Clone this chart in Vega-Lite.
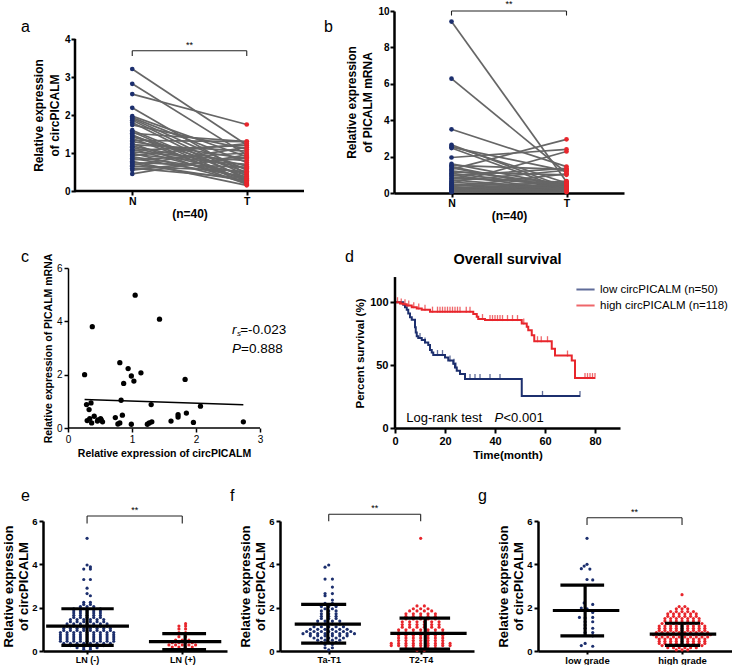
{
"$schema":"https://vega.github.io/schema/vega-lite/v6.json",
"padding":{"left":2,"top":0,"right":0,"bottom":0},
"datasets":{
"pa":[{"i":1,"x":1,"v":3.21},{"i":1,"x":2,"v":1.21},{"i":2,"x":1,"v":2.82},{"i":2,"x":2,"v":0.95},{"i":3,"x":1,"v":2.55},{"i":3,"x":2,"v":1.75},{"i":4,"x":1,"v":2.19},{"i":4,"x":2,"v":0.45},{"i":5,"x":1,"v":1.97},{"i":5,"x":2,"v":0.9},{"i":6,"x":1,"v":1.93},{"i":6,"x":2,"v":0.75},{"i":7,"x":1,"v":1.9},{"i":7,"x":2,"v":0.55},{"i":8,"x":1,"v":1.86},{"i":8,"x":2,"v":0.4},{"i":9,"x":1,"v":1.8},{"i":9,"x":2,"v":0.3},{"i":10,"x":1,"v":1.74},{"i":10,"x":2,"v":1.1},{"i":11,"x":1,"v":1.6},{"i":11,"x":2,"v":0.35},{"i":12,"x":1,"v":1.56},{"i":12,"x":2,"v":0.25},{"i":13,"x":1,"v":1.52},{"i":13,"x":2,"v":1.3},{"i":14,"x":1,"v":1.48},{"i":14,"x":2,"v":0.2},{"i":15,"x":1,"v":1.45},{"i":15,"x":2,"v":0.5},{"i":16,"x":1,"v":1.42},{"i":16,"x":2,"v":0.65},{"i":17,"x":1,"v":1.38},{"i":17,"x":2,"v":0.28},{"i":18,"x":1,"v":1.33},{"i":18,"x":2,"v":1.3},{"i":19,"x":1,"v":1.3},{"i":19,"x":2,"v":0.85},{"i":20,"x":1,"v":1.25},{"i":20,"x":2,"v":0.18},{"i":21,"x":1,"v":1.22},{"i":21,"x":2,"v":1.05},{"i":22,"x":1,"v":1.18},{"i":22,"x":2,"v":0.6},{"i":23,"x":1,"v":1.15},{"i":23,"x":2,"v":0.42},{"i":24,"x":1,"v":1.1},{"i":24,"x":2,"v":0.32},{"i":25,"x":1,"v":1.07},{"i":25,"x":2,"v":1.2},{"i":26,"x":1,"v":1.03},{"i":26,"x":2,"v":0.8},{"i":27,"x":1,"v":1.0},{"i":27,"x":2,"v":0.22},{"i":28,"x":1,"v":0.96},{"i":28,"x":2,"v":0.7},{"i":29,"x":1,"v":0.93},{"i":29,"x":2,"v":1.25},{"i":30,"x":1,"v":0.9},{"i":30,"x":2,"v":0.48},{"i":31,"x":1,"v":0.86},{"i":31,"x":2,"v":0.38},{"i":32,"x":1,"v":0.82},{"i":32,"x":2,"v":1.0},{"i":33,"x":1,"v":0.78},{"i":33,"x":2,"v":0.15},{"i":34,"x":1,"v":0.75},{"i":34,"x":2,"v":0.62},{"i":35,"x":1,"v":0.72},{"i":35,"x":2,"v":0.27},{"i":36,"x":1,"v":0.68},{"i":36,"x":2,"v":1.15},{"i":37,"x":1,"v":0.65},{"i":37,"x":2,"v":0.52},{"i":38,"x":1,"v":0.6},{"i":38,"x":2,"v":0.33},{"i":39,"x":1,"v":0.55},{"i":39,"x":2,"v":0.88},{"i":40,"x":1,"v":0.45},{"i":40,"x":2,"v":0.95}],
"pb":[{"i":1,"x":1,"v":9.42},{"i":1,"x":2,"v":0.62},{"i":2,"x":1,"v":6.28},{"i":2,"x":2,"v":1.1},{"i":3,"x":1,"v":3.5},{"i":3,"x":2,"v":1.45},{"i":4,"x":1,"v":2.65},{"i":4,"x":2,"v":0.3},{"i":5,"x":1,"v":2.58},{"i":5,"x":2,"v":0.55},{"i":6,"x":1,"v":2.52},{"i":6,"x":2,"v":1.2},{"i":7,"x":1,"v":2.47},{"i":7,"x":2,"v":0.2},{"i":8,"x":1,"v":1.95},{"i":8,"x":2,"v":2.4},{"i":9,"x":1,"v":1.6},{"i":9,"x":2,"v":0.4},{"i":10,"x":1,"v":1.52},{"i":10,"x":2,"v":1.3},{"i":11,"x":1,"v":1.45},{"i":11,"x":2,"v":0.15},{"i":12,"x":1,"v":1.38},{"i":12,"x":2,"v":0.25},{"i":13,"x":1,"v":1.3},{"i":13,"x":2,"v":2.95},{"i":14,"x":1,"v":1.22},{"i":14,"x":2,"v":0.5},{"i":15,"x":1,"v":1.15},{"i":15,"x":2,"v":1.0},{"i":16,"x":1,"v":1.08},{"i":16,"x":2,"v":0.35},{"i":17,"x":1,"v":1.0},{"i":17,"x":2,"v":0.12},{"i":18,"x":1,"v":0.95},{"i":18,"x":2,"v":1.35},{"i":19,"x":1,"v":0.88},{"i":19,"x":2,"v":0.45},{"i":20,"x":1,"v":0.8},{"i":20,"x":2,"v":0.6},{"i":21,"x":1,"v":0.72},{"i":21,"x":2,"v":0.22},{"i":22,"x":1,"v":0.65},{"i":22,"x":2,"v":1.25},{"i":23,"x":1,"v":0.58},{"i":23,"x":2,"v":0.3},{"i":24,"x":1,"v":0.52},{"i":24,"x":2,"v":2.28},{"i":25,"x":1,"v":0.48},{"i":25,"x":2,"v":0.18},{"i":26,"x":1,"v":0.44},{"i":26,"x":2,"v":0.1},{"i":27,"x":1,"v":0.4},{"i":27,"x":2,"v":0.55},{"i":28,"x":1,"v":0.35},{"i":28,"x":2,"v":1.05},{"i":29,"x":1,"v":0.32},{"i":29,"x":2,"v":0.28},{"i":30,"x":1,"v":0.28},{"i":30,"x":2,"v":0.15},{"i":31,"x":1,"v":0.25},{"i":31,"x":2,"v":0.4},{"i":32,"x":1,"v":0.22},{"i":32,"x":2,"v":0.08},{"i":33,"x":1,"v":0.2},{"i":33,"x":2,"v":0.65},{"i":34,"x":1,"v":0.18},{"i":34,"x":2,"v":0.2},{"i":35,"x":1,"v":0.15},{"i":35,"x":2,"v":0.35},{"i":36,"x":1,"v":0.12},{"i":36,"x":2,"v":0.05},{"i":37,"x":1,"v":0.1},{"i":37,"x":2,"v":0.5},{"i":38,"x":1,"v":0.08},{"i":38,"x":2,"v":0.12},{"i":39,"x":1,"v":0.06},{"i":39,"x":2,"v":0.25},{"i":40,"x":1,"v":0.05},{"i":40,"x":2,"v":0.08}],
"pc":[{"x":0.26,"y":2.0},{"x":0.29,"y":0.88},{"x":0.3,"y":0.28},{"x":0.33,"y":0.69},{"x":0.36,"y":0.94},{"x":0.38,"y":3.8},{"x":0.34,"y":0.35},{"x":0.37,"y":0.19},{"x":0.41,"y":0.44},{"x":0.46,"y":0.26},{"x":0.47,"y":0.3},{"x":0.51,"y":0.35},{"x":0.54,"y":0.23},{"x":0.52,"y":0.3},{"x":0.74,"y":0.39},{"x":0.78,"y":0.15},{"x":0.81,"y":2.45},{"x":0.83,"y":1.04},{"x":0.81,"y":0.19},{"x":0.85,"y":0.48},{"x":0.87,"y":1.67},{"x":0.94,"y":2.23},{"x":0.99,"y":1.95},{"x":0.99,"y":0.14},{"x":1.03,"y":1.76},{"x":1.05,"y":4.98},{"x":1.14,"y":2.07},{"x":1.24,"y":0.14},{"x":1.27,"y":0.19},{"x":1.3,"y":0.88},{"x":1.31,"y":0.23},{"x":1.43,"y":4.08},{"x":1.61,"y":0.26},{"x":1.72,"y":0.41},{"x":1.72,"y":0.5},{"x":1.83,"y":1.82},{"x":1.85,"y":0.56},{"x":1.96,"y":0.21},{"x":2.07,"y":0.82},{"x":2.74,"y":0.23}],
"km":[{"grp":"low","t":0,"s":100},{"grp":"low","t":3.3,"s":98},{"grp":"low","t":4,"s":96},{"grp":"low","t":4.7,"s":94},{"grp":"low","t":5.3,"s":91},{"grp":"low","t":6,"s":88},{"grp":"low","t":6.7,"s":86},{"grp":"low","t":8,"s":80},{"grp":"low","t":8.3,"s":76},{"grp":"low","t":8.7,"s":73},{"grp":"low","t":9.3,"s":71.5},{"grp":"low","t":10.7,"s":70},{"grp":"low","t":12,"s":68},{"grp":"low","t":13.3,"s":66},{"grp":"low","t":14,"s":62},{"grp":"low","t":14.7,"s":60},{"grp":"low","t":15.3,"s":58},{"grp":"low","t":20,"s":56},{"grp":"low","t":21.3,"s":53.6},{"grp":"low","t":23.3,"s":51},{"grp":"low","t":24,"s":48},{"grp":"low","t":24.7,"s":45.6},{"grp":"low","t":26,"s":43},{"grp":"low","t":28,"s":39},{"grp":"low","t":50.7,"s":25.5},{"grp":"low","t":74,"s":25.5},
{"grp":"high","t":0,"s":100},{"grp":"high","t":2,"s":99},{"grp":"high","t":3.3,"s":98.4},{"grp":"high","t":4.7,"s":97.3},{"grp":"high","t":6.7,"s":96},{"grp":"high","t":8.7,"s":95},{"grp":"high","t":10.7,"s":94},{"grp":"high","t":14,"s":92.5},{"grp":"high","t":31.3,"s":90.6},{"grp":"high","t":32.7,"s":88.5},{"grp":"high","t":33.3,"s":86.6},{"grp":"high","t":36,"s":85.8},{"grp":"high","t":50.7,"s":83},{"grp":"high","t":52.7,"s":80.4},{"grp":"high","t":53.3,"s":77.7},{"grp":"high","t":54.7,"s":73.7},{"grp":"high","t":55.7,"s":69},{"grp":"high","t":62.7,"s":63},{"grp":"high","t":64,"s":57.6},{"grp":"high","t":70.7,"s":53.6},{"grp":"high","t":72,"s":39.7},{"grp":"high","t":80,"s":39.7}],
"kmt":[{"grp":"low","t":10,"s":71.5},{"grp":"low","t":12,"s":68},{"grp":"low","t":17,"s":58},{"grp":"low","t":19,"s":58},{"grp":"low","t":22,"s":53.6},{"grp":"low","t":23.6,"s":51},{"grp":"low","t":24.4,"s":48},{"grp":"low","t":30,"s":39},{"grp":"low","t":32,"s":39},{"grp":"low","t":34,"s":39},{"grp":"low","t":38,"s":39},{"grp":"low","t":42,"s":39},{"grp":"low","t":59,"s":25.5},{"grp":"low","t":74,"s":25.5},
{"grp":"high","t":1,"s":100},{"grp":"high","t":2.5,"s":99},{"grp":"high","t":4,"s":98.4},{"grp":"high","t":5.5,"s":97.3},{"grp":"high","t":7.5,"s":96},{"grp":"high","t":9.5,"s":95},{"grp":"high","t":12,"s":94},{"grp":"high","t":15,"s":92.5},{"grp":"high","t":17,"s":92.5},{"grp":"high","t":18,"s":92.5},{"grp":"high","t":19,"s":92.5},{"grp":"high","t":20,"s":92.5},{"grp":"high","t":21,"s":92.5},{"grp":"high","t":22,"s":92.5},{"grp":"high","t":23,"s":92.5},{"grp":"high","t":24,"s":92.5},{"grp":"high","t":25,"s":92.5},{"grp":"high","t":26,"s":92.5},{"grp":"high","t":28.5,"s":92.5},{"grp":"high","t":30,"s":92.5},{"grp":"high","t":35,"s":86.6},{"grp":"high","t":38,"s":85.8},{"grp":"high","t":39,"s":85.8},{"grp":"high","t":40,"s":85.8},{"grp":"high","t":41,"s":85.8},{"grp":"high","t":42,"s":85.8},{"grp":"high","t":43,"s":85.8},{"grp":"high","t":45,"s":85.8},{"grp":"high","t":47,"s":85.8},{"grp":"high","t":49,"s":85.8},{"grp":"high","t":51.5,"s":83},{"grp":"high","t":57,"s":69},{"grp":"high","t":58.5,"s":69},{"grp":"high","t":61,"s":69},{"grp":"high","t":69,"s":57.6},{"grp":"high","t":76,"s":39.7},{"grp":"high","t":77,"s":39.7},{"grp":"high","t":78,"s":39.7},{"grp":"high","t":79,"s":39.7},{"grp":"high","t":80,"s":39.7}],
"e1":[{"x":1,"y":5.2},{"x":1,"y":3.97},{"x":1.035,"y":3.88},{"x":0.965,"y":3.78},{"x":1.035,"y":3.78},{"x":0.965,"y":3.3},{"x":1.035,"y":3.3},{"x":1,"y":2.9},{"x":1,"y":2.65},{"x":1.035,"y":2.55},{"x":0.965,"y":2.25},{"x":1.035,"y":2.25},{"x":0.965,"y":2.15},{"x":1.035,"y":2.15},{"x":0.93,"y":2.05},{"x":1,"y":2.05},{"x":1.07,"y":2.05},
{"x":0.86,"y":1.95},{"x":0.93,"y":1.95},{"x":1,"y":1.95},{"x":1.07,"y":1.95},{"x":1.14,"y":1.95},
{"x":0.86,"y":1.85},{"x":0.93,"y":1.85},{"x":1,"y":1.85},{"x":1.07,"y":1.85},{"x":1.14,"y":1.85},
{"x":0.86,"y":1.75},{"x":0.93,"y":1.75},{"x":1,"y":1.75},{"x":1.07,"y":1.75},{"x":1.14,"y":1.75},
{"x":0.86,"y":1.65},{"x":0.93,"y":1.65},{"x":1,"y":1.65},{"x":1.07,"y":1.65},{"x":1.14,"y":1.65},
{"x":0.86,"y":1.55},{"x":0.93,"y":1.55},{"x":1,"y":1.55},{"x":1.07,"y":1.55},{"x":1.14,"y":1.55},
{"x":0.825,"y":1.45},{"x":0.895,"y":1.45},{"x":0.965,"y":1.45},{"x":1.035,"y":1.45},{"x":1.105,"y":1.45},{"x":1.175,"y":1.45},
{"x":0.825,"y":1.35},{"x":0.895,"y":1.35},{"x":0.965,"y":1.35},{"x":1.035,"y":1.35},{"x":1.105,"y":1.35},{"x":1.175,"y":1.35},
{"x":0.79,"y":1.25},{"x":0.86,"y":1.25},{"x":0.93,"y":1.25},{"x":1,"y":1.25},{"x":1.07,"y":1.25},{"x":1.14,"y":1.25},{"x":1.21,"y":1.25},
{"x":0.79,"y":1.15},{"x":0.86,"y":1.15},{"x":0.93,"y":1.15},{"x":1,"y":1.15},{"x":1.07,"y":1.15},{"x":1.14,"y":1.15},{"x":1.21,"y":1.15},
{"x":0.755,"y":1.05},{"x":0.825,"y":1.05},{"x":0.895,"y":1.05},{"x":0.965,"y":1.05},{"x":1.035,"y":1.05},{"x":1.105,"y":1.05},{"x":1.175,"y":1.05},{"x":1.245,"y":1.05},
{"x":0.755,"y":0.95},{"x":0.825,"y":0.95},{"x":0.895,"y":0.95},{"x":0.965,"y":0.95},{"x":1.035,"y":0.95},{"x":1.105,"y":0.95},{"x":1.175,"y":0.95},{"x":1.245,"y":0.95},
{"x":0.72,"y":0.85},{"x":0.79,"y":0.85},{"x":0.86,"y":0.85},{"x":0.93,"y":0.85},{"x":1,"y":0.85},{"x":1.07,"y":0.85},{"x":1.14,"y":0.85},{"x":1.21,"y":0.85},{"x":1.28,"y":0.85},
{"x":0.72,"y":0.75},{"x":0.79,"y":0.75},{"x":0.86,"y":0.75},{"x":0.93,"y":0.75},{"x":1,"y":0.75},{"x":1.07,"y":0.75},{"x":1.14,"y":0.75},{"x":1.21,"y":0.75},{"x":1.28,"y":0.75},
{"x":0.72,"y":0.65},{"x":0.79,"y":0.65},{"x":0.86,"y":0.65},{"x":0.93,"y":0.65},{"x":1,"y":0.65},{"x":1.07,"y":0.65},{"x":1.14,"y":0.65},{"x":1.21,"y":0.65},{"x":1.28,"y":0.65},
{"x":0.72,"y":0.55},{"x":0.79,"y":0.55},{"x":0.86,"y":0.55},{"x":0.93,"y":0.55},{"x":1,"y":0.55},{"x":1.07,"y":0.55},{"x":1.14,"y":0.55},{"x":1.21,"y":0.55},{"x":1.28,"y":0.55},
{"x":0.72,"y":0.45},{"x":0.79,"y":0.45},{"x":0.86,"y":0.45},{"x":0.93,"y":0.45},{"x":1,"y":0.45},{"x":1.07,"y":0.45},{"x":1.14,"y":0.45},{"x":1.21,"y":0.45},{"x":1.28,"y":0.45},
{"x":0.755,"y":0.35},{"x":0.825,"y":0.35},{"x":0.895,"y":0.35},{"x":0.965,"y":0.35},{"x":1.035,"y":0.35},{"x":1.105,"y":0.35},{"x":1.175,"y":0.35},{"x":1.245,"y":0.35},
{"x":0.825,"y":0.25},{"x":0.895,"y":0.25},{"x":0.965,"y":0.25},{"x":1.035,"y":0.25},{"x":1.105,"y":0.25},{"x":1.175,"y":0.25},
{"x":0.895,"y":0.15},{"x":0.965,"y":0.15},{"x":1.035,"y":0.15},{"x":1.105,"y":0.15},
{"x":0.965,"y":0.07},{"x":1.035,"y":0.07}],
"e2":[{"x":2.035,"y":1.26},{"x":1.965,"y":1.15},{"x":2.035,"y":1.15},{"x":1.965,"y":1.02},{"x":2.035,"y":1.02},{"x":1.965,"y":0.85},{"x":2.035,"y":0.85},{"x":1.965,"y":0.66},{"x":2.035,"y":0.66},{"x":1.93,"y":0.5},{"x":2,"y":0.5},{"x":2.07,"y":0.5},{"x":1.895,"y":0.38},{"x":1.965,"y":0.38},{"x":2.035,"y":0.38},{"x":2.105,"y":0.38},{"x":1.86,"y":0.28},{"x":1.93,"y":0.28},{"x":2,"y":0.28},{"x":2.07,"y":0.28},{"x":2.14,"y":0.28},{"x":1.895,"y":0.18},{"x":1.965,"y":0.18},{"x":2.035,"y":0.18},{"x":2.105,"y":0.18},{"x":1.965,"y":0.08},{"x":2.035,"y":0.08}],
"f1":[{"x":1,"y":3.97},{"x":0.96,"y":3.87},{"x":0.96,"y":3.32},{"x":1.04,"y":3.32},{"x":1.04,"y":2.95},{"x":0.96,"y":2.65},{"x":1.04,"y":2.65},{"x":0.96,"y":2.55},{"x":1.04,"y":2.35},{"x":0.96,"y":2.2},{"x":1.04,"y":2.2},{"x":0.92,"y":2.05},{"x":1,"y":2.05},{"x":1.08,"y":2.05},{"x":0.96,"y":1.95},{"x":1.04,"y":1.95},
{"x":0.92,"y":1.85},{"x":1,"y":1.85},{"x":1.08,"y":1.85},{"x":0.92,"y":1.72},{"x":1,"y":1.72},{"x":1.08,"y":1.72},{"x":0.92,"y":1.6},{"x":1,"y":1.6},{"x":1.08,"y":1.6},{"x":0.92,"y":1.5},{"x":1,"y":1.5},{"x":1.08,"y":1.5},
{"x":0.88,"y":1.38},{"x":0.96,"y":1.38},{"x":1.04,"y":1.38},{"x":1.12,"y":1.38},{"x":0.88,"y":1.25},{"x":0.96,"y":1.25},{"x":1.04,"y":1.25},{"x":1.12,"y":1.25},
{"x":0.84,"y":1.12},{"x":0.92,"y":1.12},{"x":1,"y":1.12},{"x":1.08,"y":1.12},{"x":1.16,"y":1.12},
{"x":0.8,"y":1.0},{"x":0.88,"y":1.0},{"x":0.96,"y":1.0},{"x":1.04,"y":1.0},{"x":1.12,"y":1.0},{"x":1.2,"y":1.0},
{"x":0.76,"y":0.9},{"x":0.84,"y":0.9},{"x":0.92,"y":0.9},{"x":1,"y":0.9},{"x":1.08,"y":0.9},{"x":1.16,"y":0.9},{"x":1.24,"y":0.9},
{"x":0.72,"y":0.8},{"x":0.8,"y":0.8},{"x":0.88,"y":0.8},{"x":0.96,"y":0.8},{"x":1.04,"y":0.8},{"x":1.12,"y":0.8},{"x":1.2,"y":0.8},{"x":1.28,"y":0.8},
{"x":0.8,"y":0.7},{"x":0.88,"y":0.7},{"x":0.96,"y":0.7},{"x":1.04,"y":0.7},{"x":1.12,"y":0.7},{"x":1.2,"y":0.7},
{"x":0.84,"y":0.6},{"x":0.92,"y":0.6},{"x":1,"y":0.6},{"x":1.08,"y":0.6},{"x":1.16,"y":0.6},
{"x":0.88,"y":0.5},{"x":0.96,"y":0.5},{"x":1.04,"y":0.5},{"x":1.12,"y":0.5},
{"x":0.92,"y":0.4},{"x":1,"y":0.4},{"x":1.08,"y":0.4},{"x":0.96,"y":0.3},{"x":1.04,"y":0.3},{"x":0.96,"y":0.15},{"x":1.04,"y":0.15},{"x":1,"y":0.05}],
"f2":[{"x":2,"y":5.2},{"x":1.96,"y":2.08},{"x":2.04,"y":2.08},{"x":1.92,"y":1.95},{"x":2,"y":1.95},{"x":2.08,"y":1.95},{"x":1.88,"y":1.85},{"x":1.96,"y":1.85},{"x":2.04,"y":1.85},{"x":2.12,"y":1.85},
{"x":1.84,"y":1.72},{"x":1.92,"y":1.72},{"x":2,"y":1.72},{"x":2.08,"y":1.72},{"x":2.16,"y":1.72},
{"x":1.84,"y":1.6},{"x":1.92,"y":1.6},{"x":2,"y":1.6},{"x":2.08,"y":1.6},{"x":2.16,"y":1.6},
{"x":1.84,"y":1.48},{"x":1.92,"y":1.48},{"x":2,"y":1.48},{"x":2.08,"y":1.48},{"x":2.16,"y":1.48},
{"x":1.8,"y":1.35},{"x":1.88,"y":1.35},{"x":1.96,"y":1.35},{"x":2.04,"y":1.35},{"x":2.12,"y":1.35},{"x":2.2,"y":1.35},
{"x":1.8,"y":1.22},{"x":1.88,"y":1.22},{"x":1.96,"y":1.22},{"x":2.04,"y":1.22},{"x":2.12,"y":1.22},{"x":2.2,"y":1.22},
{"x":1.8,"y":1.1},{"x":1.88,"y":1.1},{"x":1.96,"y":1.1},{"x":2.04,"y":1.1},{"x":2.12,"y":1.1},{"x":2.2,"y":1.1},
{"x":1.76,"y":0.98},{"x":1.84,"y":0.98},{"x":1.92,"y":0.98},{"x":2,"y":0.98},{"x":2.08,"y":0.98},{"x":2.16,"y":0.98},{"x":2.24,"y":0.98},
{"x":1.76,"y":0.85},{"x":1.84,"y":0.85},{"x":1.92,"y":0.85},{"x":2,"y":0.85},{"x":2.08,"y":0.85},{"x":2.16,"y":0.85},{"x":2.24,"y":0.85},
{"x":1.76,"y":0.72},{"x":1.84,"y":0.72},{"x":1.92,"y":0.72},{"x":2,"y":0.72},{"x":2.08,"y":0.72},{"x":2.16,"y":0.72},{"x":2.24,"y":0.72},
{"x":1.76,"y":0.6},{"x":1.84,"y":0.6},{"x":1.92,"y":0.6},{"x":2,"y":0.6},{"x":2.08,"y":0.6},{"x":2.16,"y":0.6},{"x":2.24,"y":0.6},
{"x":1.76,"y":0.48},{"x":1.84,"y":0.48},{"x":1.92,"y":0.48},{"x":2,"y":0.48},{"x":2.08,"y":0.48},{"x":2.16,"y":0.48},{"x":2.24,"y":0.48},
{"x":1.68,"y":0.35},{"x":1.76,"y":0.35},{"x":1.84,"y":0.35},{"x":1.92,"y":0.35},{"x":2,"y":0.35},{"x":2.08,"y":0.35},{"x":2.16,"y":0.35},{"x":2.24,"y":0.35},{"x":2.32,"y":0.35},
{"x":1.68,"y":0.25},{"x":1.76,"y":0.25},{"x":1.84,"y":0.25},{"x":1.92,"y":0.25},{"x":2,"y":0.25},{"x":2.08,"y":0.25},{"x":2.16,"y":0.25},{"x":2.24,"y":0.25},{"x":2.32,"y":0.25},
{"x":1.84,"y":0.12},{"x":1.92,"y":0.12},{"x":2,"y":0.12},{"x":2.08,"y":0.12},{"x":2.16,"y":0.12},{"x":1.96,"y":0.04},{"x":2.04,"y":0.04}],
"g1":[{"x":1,"y":5.2},{"x":1,"y":4.0},{"x":0.97,"y":3.92},{"x":0.94,"y":3.8},{"x":1.03,"y":3.78},{"x":1,"y":3.3},{"x":1.06,"y":3.28},{"x":0.97,"y":2.22},{"x":1.06,"y":2.15},{"x":0.94,"y":1.98},{"x":1,"y":1.95},{"x":1.06,"y":1.78},{"x":0.92,"y":1.55},{"x":0.98,"y":1.52},{"x":1.06,"y":1.55},{"x":0.98,"y":1.35},{"x":1.06,"y":1.35},{"x":0.98,"y":1.2},{"x":0.98,"y":1.05},{"x":1.06,"y":1.05},{"x":0.98,"y":0.85},{"x":1.06,"y":0.85},{"x":0.98,"y":0.72},{"x":1.06,"y":0.7},{"x":0.98,"y":0.35},{"x":0.94,"y":0.25},{"x":1.06,"y":0.22}],
"g2":[{"x":2,"y":2.6},{"x":1.97,"y":2.05},{"x":2.03,"y":2.05},{"x":1.94,"y":1.95},{"x":2,"y":1.95},{"x":2.06,"y":1.95},
{"x":1.88,"y":1.82},{"x":1.94,"y":1.82},{"x":2,"y":1.82},{"x":2.06,"y":1.82},{"x":2.12,"y":1.82},
{"x":1.85,"y":1.72},{"x":1.91,"y":1.72},{"x":1.97,"y":1.72},{"x":2.03,"y":1.72},{"x":2.09,"y":1.72},{"x":2.15,"y":1.72},
{"x":1.85,"y":1.6},{"x":1.91,"y":1.6},{"x":1.97,"y":1.6},{"x":2.03,"y":1.6},{"x":2.09,"y":1.6},{"x":2.15,"y":1.6},
{"x":1.82,"y":1.5},{"x":1.88,"y":1.5},{"x":1.94,"y":1.5},{"x":2,"y":1.5},{"x":2.06,"y":1.5},{"x":2.12,"y":1.5},{"x":2.18,"y":1.5},
{"x":1.82,"y":1.38},{"x":1.88,"y":1.38},{"x":1.94,"y":1.38},{"x":2,"y":1.38},{"x":2.06,"y":1.38},{"x":2.12,"y":1.38},{"x":2.18,"y":1.38},
{"x":1.79,"y":1.27},{"x":1.85,"y":1.27},{"x":1.91,"y":1.27},{"x":1.97,"y":1.27},{"x":2.03,"y":1.27},{"x":2.09,"y":1.27},{"x":2.15,"y":1.27},{"x":2.21,"y":1.27},
{"x":1.76,"y":1.15},{"x":1.82,"y":1.15},{"x":1.88,"y":1.15},{"x":1.94,"y":1.15},{"x":2,"y":1.15},{"x":2.06,"y":1.15},{"x":2.12,"y":1.15},{"x":2.18,"y":1.15},{"x":2.24,"y":1.15},
{"x":1.76,"y":1.05},{"x":1.82,"y":1.05},{"x":1.88,"y":1.05},{"x":1.94,"y":1.05},{"x":2,"y":1.05},{"x":2.06,"y":1.05},{"x":2.12,"y":1.05},{"x":2.18,"y":1.05},{"x":2.24,"y":1.05},
{"x":1.76,"y":0.95},{"x":1.82,"y":0.95},{"x":1.88,"y":0.95},{"x":1.94,"y":0.95},{"x":2,"y":0.95},{"x":2.06,"y":0.95},{"x":2.12,"y":0.95},{"x":2.18,"y":0.95},{"x":2.24,"y":0.95},
{"x":1.73,"y":0.85},{"x":1.79,"y":0.85},{"x":1.85,"y":0.85},{"x":1.91,"y":0.85},{"x":1.97,"y":0.85},{"x":2.03,"y":0.85},{"x":2.09,"y":0.85},{"x":2.15,"y":0.85},{"x":2.21,"y":0.85},{"x":2.27,"y":0.85},
{"x":1.7,"y":0.75},{"x":1.76,"y":0.75},{"x":1.82,"y":0.75},{"x":1.88,"y":0.75},{"x":1.94,"y":0.75},{"x":2,"y":0.75},{"x":2.06,"y":0.75},{"x":2.12,"y":0.75},{"x":2.18,"y":0.75},{"x":2.24,"y":0.75},{"x":2.3,"y":0.75},
{"x":1.73,"y":0.65},{"x":1.79,"y":0.65},{"x":1.85,"y":0.65},{"x":1.91,"y":0.65},{"x":1.97,"y":0.65},{"x":2.03,"y":0.65},{"x":2.09,"y":0.65},{"x":2.15,"y":0.65},{"x":2.21,"y":0.65},{"x":2.27,"y":0.65},
{"x":1.76,"y":0.55},{"x":1.82,"y":0.55},{"x":1.88,"y":0.55},{"x":1.94,"y":0.55},{"x":2,"y":0.55},{"x":2.06,"y":0.55},{"x":2.12,"y":0.55},{"x":2.18,"y":0.55},{"x":2.24,"y":0.55},
{"x":1.76,"y":0.45},{"x":1.82,"y":0.45},{"x":1.88,"y":0.45},{"x":1.94,"y":0.45},{"x":2,"y":0.45},{"x":2.06,"y":0.45},{"x":2.12,"y":0.45},{"x":2.18,"y":0.45},{"x":2.24,"y":0.45},
{"x":1.76,"y":0.35},{"x":1.82,"y":0.35},{"x":1.88,"y":0.35},{"x":1.94,"y":0.35},{"x":2,"y":0.35},{"x":2.06,"y":0.35},{"x":2.12,"y":0.35},{"x":2.18,"y":0.35},{"x":2.24,"y":0.35},
{"x":1.79,"y":0.25},{"x":1.85,"y":0.25},{"x":1.91,"y":0.25},{"x":1.97,"y":0.25},{"x":2.03,"y":0.25},{"x":2.09,"y":0.25},{"x":2.15,"y":0.25},{"x":2.21,"y":0.25},
{"x":1.85,"y":0.15},{"x":1.91,"y":0.15},{"x":1.97,"y":0.15},{"x":2.03,"y":0.15},{"x":2.09,"y":0.15},{"x":2.15,"y":0.15},
{"x":1.94,"y":0.05},{"x":2,"y":0.05},{"x":2.06,"y":0.05}],
"eb":[{"x":0.57,"x2":1.44,"y":1.15,"y2":1.15},{"x":0.73,"x2":1.28,"y":1.95,"y2":1.95},{"x":0.73,"x2":1.28,"y":0.26,"y2":0.26},{"x":1,"x2":1,"y":0.26,"y2":1.95},{"x":1.65,"x2":2.41,"y":0.43,"y2":0.43},{"x":1.79,"x2":2.25,"y":0.8,"y2":0.8},{"x":1.79,"x2":2.25,"y":0.07,"y2":0.07},{"x":2.03,"x2":2.03,"y":0.07,"y2":0.8}],
"fb":[{"x":0.63,"x2":1.35,"y":1.24,"y2":1.24},{"x":0.7,"x2":1.19,"y":2.15,"y2":2.15},{"x":0.7,"x2":1.19,"y":0.36,"y2":0.36},{"x":0.99,"x2":0.99,"y":0.36,"y2":2.15},{"x":1.67,"x2":2.5,"y":0.81,"y2":0.81},{"x":1.77,"x2":2.32,"y":1.52,"y2":1.52},{"x":1.77,"x2":2.32,"y":0.09,"y2":0.09},{"x":2.05,"x2":2.05,"y":0.09,"y2":1.52}],
"gb":[{"x":0.64,"x2":1.34,"y":1.87,"y2":1.87},{"x":0.72,"x2":1.18,"y":3.04,"y2":3.04},{"x":0.72,"x2":1.18,"y":0.7,"y2":0.7},{"x":0.98,"x2":0.98,"y":0.7,"y2":3.04},{"x":1.66,"x2":2.36,"y":0.78,"y2":0.78},{"x":1.82,"x2":2.19,"y":1.28,"y2":1.28},{"x":1.82,"x2":2.19,"y":0.26,"y2":0.26},{"x":2.0,"x2":2.0,"y":0.26,"y2":1.28}]
},
"columns":1,
"align":"none",
"resolve":{"scale":{"color":"independent"},"legend":{"color":"independent"}},
"concat":[
{"columns":2,"align":{"row":"all","column":"none"},"spacing":17,"concat":[
{"width":261,"height":180,"layer":[
 {"data":{"name":"pa"},"mark":{"type":"line","color":"#666666","strokeWidth":1.7},"encoding":{
  "x":{"field":"x","type":"quantitative","scale":{"domain":[0.2205,2.5],"nice":false,"zero":false},"axis":{"values":[1,2],"labelExpr":"datum.value == 1 ? 'N' : 'T'","domain":false,"title":"(n=40)","titleX":146.5,"titleFontSize":12,"titleFontWeight":"bold","labelFontSize":10.5,"labelFontWeight":"bold","tickWidth":2,"tickSize":4,"labelPadding":1,"titlePadding":2,"labelFlush":false}},
  "y":{"field":"v","type":"quantitative","scale":{"domain":[0,4.737],"nice":false},"axis":{"values":[0,1,2,3,4],"offset":-32,"domain":false,"labelOverlap":false,"title":["Relative expression","of circPICALM"],"titleFontSize":12,"titleFontWeight":"bold","titleLineHeight":16,"titleY":104,"titlePadding":3,"labelFontSize":10,"labelFontWeight":"bold","tickWidth":2,"tickSize":4,"labelPadding":1}},
  "detail":{"field":"i","type":"nominal"}}},
 {"data":{"name":"pa"},"mark":{"type":"circle","size":22,"opacity":1},"encoding":{"x":{"field":"x","type":"quantitative"},"y":{"field":"v","type":"quantitative"},"color":{"condition":{"test":"datum.x == 1","value":"#1c2f6e"},"value":"#e8262c"}}},
 {"data":{"values":[{}]},"mark":{"type":"rule","strokeWidth":2.5,"color":"black"},"encoding":{"x":{"datum":0.5},"y":{"datum":0},"y2":{"datum":4}}},
 {"data":{"values":[{}]},"mark":{"type":"rule","strokeWidth":2.5,"color":"black"},"encoding":{"x":{"datum":0.5},"x2":{"datum":2.5},"y":{"datum":0}}},
 {"data":{"values":[{}]},"mark":{"type":"rule","strokeWidth":1.1,"color":"#222"},"encoding":{"x":{"datum":1},"x2":{"datum":2},"y":{"datum":3.69}}},
 {"data":{"values":[{}]},"mark":{"type":"rule","strokeWidth":1.1,"color":"#222"},"encoding":{"x":{"datum":1},"y":{"datum":3.69},"y2":{"datum":3.55}}},
 {"data":{"values":[{}]},"mark":{"type":"rule","strokeWidth":1.1,"color":"#222"},"encoding":{"x":{"datum":2},"y":{"datum":3.69},"y2":{"datum":3.55}}},
 {"data":{"values":[{}]},"mark":{"type":"text","fontSize":9,"baseline":"middle","font":"Liberation Sans"},"encoding":{"x":{"datum":1.5},"y":{"datum":3.84},"text":{"value":"**"}}},
 {"data":{"values":[{}]},"mark":{"type":"text","fontSize":16,"align":"left","baseline":"alphabetic","font":"Liberation Sans"},"encoding":{"x":{"datum":0.028},"y":{"datum":4.18},"text":{"value":"a"}}}
]},
{"width":230,"height":182,"layer":[
 {"data":{"name":"pb"},"mark":{"type":"line","color":"#666666","strokeWidth":1.7},"encoding":{
  "x":{"field":"x","type":"quantitative","scale":{"domain":[0.5,2.5],"nice":false,"zero":false},"axis":{"values":[1,2],"labelExpr":"datum.value == 1 ? 'N' : 'T'","title":"(n=40)","titleFontSize":12,"titleFontWeight":"bold","labelFontSize":10.5,"labelFontWeight":"bold","domainWidth":2.5,"tickWidth":2,"tickSize":4,"labelPadding":1,"titlePadding":2,"labelFlush":false}},
  "y":{"field":"v","type":"quantitative","scale":{"domain":[0,10],"nice":false},"axis":{"values":[0,2,4,6,8,10],"tickCount":6,"labelOverlap":false,"labelBound":false,"title":["Relative expression","of PICALM mRNA"],"titleFontSize":12,"titleFontWeight":"bold","titleLineHeight":16,"titlePadding":3,"labelFontSize":10,"labelFontWeight":"bold","domainWidth":2.5,"tickWidth":2,"tickSize":4,"labelPadding":1}},
  "detail":{"field":"i","type":"nominal"}}},
 {"data":{"name":"pb"},"mark":{"type":"circle","size":22,"opacity":1},"encoding":{"x":{"field":"x","type":"quantitative"},"y":{"field":"v","type":"quantitative","axis":{"labelOverlap":false,"values":[0,2,4,6,8,10]}},"color":{"condition":{"test":"datum.x == 1","value":"#1c2f6e"},"value":"#e8262c"}}},
 {"data":{"values":[{}]},"mark":{"type":"rule","strokeWidth":1.1,"color":"#222"},"encoding":{"x":{"datum":1},"x2":{"datum":2},"y":{"datum":10}}},
 {"data":{"values":[{}]},"mark":{"type":"rule","strokeWidth":1.1,"color":"#222"},"encoding":{"x":{"datum":1},"y":{"datum":10},"y2":{"datum":9.75}}},
 {"data":{"values":[{}]},"mark":{"type":"rule","strokeWidth":1.1,"color":"#222"},"encoding":{"x":{"datum":2},"y":{"datum":10},"y2":{"datum":9.75}}},
 {"data":{"values":[{}]},"mark":{"type":"text","fontSize":9,"baseline":"middle","font":"Liberation Sans"},"encoding":{"x":{"datum":1.5},"y":{"datum":10.37},"text":{"value":"**"}}},
 {"data":{"values":[{}]},"mark":{"type":"text","fontSize":16,"align":"left","baseline":"alphabetic","font":"Liberation Sans"},"encoding":{"x":{"datum":-0.109},"y":{"datum":8.85},"text":{"value":"b"}}}
]}
]},
{"columns":2,"align":{"row":"all","column":"none"},"spacing":58,"resolve":{"scale":{"color":"independent"},"legend":{"color":"independent"}},"concat":[
{"width":217,"height":160,"layer":[
 {"data":{"name":"pc"},"mark":{"type":"circle","size":28,"color":"black","opacity":1},"encoding":{
  "x":{"field":"x","type":"quantitative","scale":{"domain":[-0.39,3],"nice":false,"zero":false},"axis":{"values":[0,1,2,3],"format":"d","domain":false,"title":"Relative expression of circPICALM","titleX":121,"titleFontSize":10.5,"titleFontWeight":"bold","labelFontSize":10,"tickWidth":1.5,"tickSize":4,"labelPadding":2,"titlePadding":4,"labelFlush":false}},
  "y":{"field":"y","type":"quantitative","scale":{"domain":[0,6],"nice":false},"axis":{"values":[0,2,4,6],"format":"d","offset":-25,"title":"Relative expression of PICALM mRNA","titleFontSize":10.5,"titleFontWeight":"bold","titlePadding":3,"labelFontSize":10,"domainWidth":1.5,"tickWidth":1.5,"tickSize":4,"labelPadding":2}}}},
 {"data":{"values":[{}]},"mark":{"type":"rule","strokeWidth":1.5,"color":"black"},"encoding":{"x":{"datum":0},"x2":{"datum":3},"y":{"datum":0}}},
 {"data":{"values":[{}]},"mark":{"type":"rule","strokeWidth":1.5,"color":"black"},"encoding":{"x":{"datum":0.26},"x2":{"datum":2.74},"y":{"datum":1.07},"y2":{"datum":0.87}}},
 {"data":{"values":[{}]},"mark":{"type":"text","fontSize":13.5,"fontStyle":"italic","align":"left","font":"Liberation Sans"},"encoding":{"x":{"datum":2.5625},"y":{"datum":3.67},"text":{"value":"r"}}},
 {"data":{"values":[{}]},"mark":{"type":"text","fontSize":8,"fontStyle":"italic","align":"left","font":"Liberation Sans"},"encoding":{"x":{"datum":2.64},"y":{"datum":3.52},"text":{"value":"s"}}},
 {"data":{"values":[{}]},"mark":{"type":"text","fontSize":13.5,"align":"left","font":"Liberation Sans"},"encoding":{"x":{"datum":2.69},"y":{"datum":3.67},"text":{"value":"=-0.023"}}},
 {"data":{"values":[{}]},"mark":{"type":"text","fontSize":13.5,"fontStyle":"italic","align":"left","font":"Liberation Sans"},"encoding":{"x":{"datum":2.5625},"y":{"datum":2.96},"text":{"value":"P"}}},
 {"data":{"values":[{}]},"mark":{"type":"text","fontSize":13.5,"align":"left","font":"Liberation Sans"},"encoding":{"x":{"datum":2.705},"y":{"datum":2.96},"text":{"value":"=0.888"}}},
 {"data":{"values":[{}]},"mark":{"type":"text","fontSize":16,"align":"left","baseline":"alphabetic","font":"Liberation Sans"},"encoding":{"x":{"datum":-0.734},"y":{"datum":6.22},"text":{"value":"c"}}}
]},
{"width":225,"height":160,
 "layer":[
 {"data":{"name":"km"},"mark":{"type":"line","interpolate":"step-after","strokeWidth":2},"encoding":{
  "x":{"field":"t","type":"quantitative","scale":{"domain":[0,90],"nice":false},"axis":{"values":[0,20,40,60,80],"title":"Time(month)","titleFontSize":11.5,"titleFontWeight":"bold","labelFontSize":11,"labelFontWeight":"bold","domainWidth":2.5,"tickWidth":2,"tickSize":5,"labelPadding":2,"titlePadding":3,"labelFlush":false}},
  "y":{"field":"s","type":"quantitative","scale":{"domain":[0,127.2],"nice":false},"axis":{"values":[0,50,100],"domain":false,"title":"Percent survival (%)","titleFontSize":11.5,"titleFontWeight":"bold","titleY":85,"labelFontSize":11,"labelFontWeight":"bold","tickWidth":2,"tickSize":5,"labelPadding":2,"titlePadding":4}},
  "color":{"field":"grp","type":"nominal","scale":{"domain":["low","high"],"range":["#1c2f6e","#e8262c"]},"legend":{"title":null,"orient":"none","legendX":180,"legendY":11,"symbolType":"stroke","symbolSize":330,"symbolStrokeWidth":2,"labelFontSize":11.5,"labelOffset":4,"rowPadding":0,"labelColor":"black","labelExpr":"datum.label == 'low' ? 'low circPICALM (n=50)' : 'high circPICALM (n=118)'"}}}},
 {"data":{"name":"kmt"},"mark":{"type":"tick","orient":"vertical","size":6,"thickness":1.3,"yOffset":-2},"encoding":{"x":{"field":"t","type":"quantitative"},"y":{"field":"s","type":"quantitative"},"color":{"field":"grp","type":"nominal"}}},
 {"data":{"values":[{}]},"mark":{"type":"rule","strokeWidth":2.5,"color":"black"},"encoding":{"x":{"datum":0},"y":{"datum":0},"y2":{"datum":120}}},
 {"data":{"values":[{}]},"mark":{"type":"text","fontSize":14.5,"fontWeight":"bold","align":"center","font":"Liberation Sans"},"encoding":{"x":{"datum":45},"y":{"datum":133.5},"text":{"value":"Overall survival"}}},
 {"data":{"values":[{}]},"mark":{"type":"text","fontSize":13,"align":"left","font":"Liberation Sans"},"encoding":{"x":{"datum":4.5},"y":{"datum":8.2},"text":{"value":"Log-rank test"}}},
 {"data":{"values":[{}]},"mark":{"type":"text","fontSize":13,"fontStyle":"italic","align":"left","font":"Liberation Sans"},"encoding":{"x":{"datum":39.8},"y":{"datum":8.2},"text":{"value":"P"}}},
 {"data":{"values":[{}]},"mark":{"type":"text","fontSize":13,"align":"left","font":"Liberation Sans"},"encoding":{"x":{"datum":43.4},"y":{"datum":8.2},"text":{"value":"<0.001"}}},
 {"data":{"values":[{}]},"mark":{"type":"text","fontSize":16,"align":"left","baseline":"alphabetic","font":"Liberation Sans"},"encoding":{"x":{"datum":-20},"y":{"datum":131.9},"text":{"value":"d"}}}
]}
]},
{"columns":3,"align":{"row":"all","column":"none"},"spacing":3,"concat":[
{"width":184,"height":130,"layer":[
 {"data":{"name":"e1"},"mark":{"type":"circle","size":10,"color":"#1c2f6e","opacity":1},"encoding":{
  "x":{"field":"x","type":"quantitative","scale":{"domain":[0.537,2.47],"nice":false,"zero":false},"axis":{"values":[1,2],"labelExpr":"datum.value == 1 ? 'LN (-)' : 'LN (+)'","title":null,"labelFontSize":9,"labelFontWeight":"bold","domainWidth":2.5,"tickWidth":2,"tickSize":3,"labelPadding":1,"labelFlush":false}},
  "y":{"field":"y","type":"quantitative","scale":{"domain":[0,6],"nice":false},"axis":{"values":[0,2,4,6],"title":["Relative expression","of circPICALM"],"titleFontSize":13,"titleFontWeight":"bold","titleLineHeight":15,"titlePadding":1,"labelFontSize":9.5,"labelFontWeight":"bold","domainWidth":2.5,"tickWidth":2,"tickSize":4,"labelPadding":2}}}},
 {"data":{"name":"e2"},"mark":{"type":"circle","size":10,"color":"#e8262c","opacity":1},"encoding":{"x":{"field":"x","type":"quantitative"},"y":{"field":"y","type":"quantitative"}}},
 {"data":{"name":"eb"},"mark":{"type":"rule","strokeWidth":3.2,"color":"black"},"encoding":{"x":{"field":"x","type":"quantitative"},"x2":{"field":"x2"},"y":{"field":"y","type":"quantitative"},"y2":{"field":"y2"}}},
 {"data":{"values":[{}]},"mark":{"type":"rule","strokeWidth":1.1,"color":"#222"},"encoding":{"x":{"datum":1},"x2":{"datum":2},"y":{"datum":6.23}}},
 {"data":{"values":[{}]},"mark":{"type":"rule","strokeWidth":1.1,"color":"#222"},"encoding":{"x":{"datum":1},"y":{"datum":6.23},"y2":{"datum":5.88}}},
 {"data":{"values":[{}]},"mark":{"type":"rule","strokeWidth":1.1,"color":"#222"},"encoding":{"x":{"datum":2},"y":{"datum":6.23},"y2":{"datum":5.88}}},
 {"data":{"values":[{}]},"mark":{"type":"text","fontSize":9,"baseline":"middle","font":"Liberation Sans"},"encoding":{"x":{"datum":1.5},"y":{"datum":6.5},"text":{"value":"**"}}},
 {"data":{"values":[{}]},"mark":{"type":"text","fontSize":16,"align":"left","baseline":"alphabetic","font":"Liberation Sans"},"encoding":{"x":{"datum":0.305},"y":{"datum":6.92},"text":{"value":"e"}}}
]},
{"width":194,"height":130,"layer":[
 {"data":{"name":"f1"},"mark":{"type":"circle","size":10,"color":"#1c2f6e","opacity":1},"encoding":{
  "x":{"field":"x","type":"quantitative","scale":{"domain":[0.47,2.58],"nice":false,"zero":false},"axis":{"values":[1,2],"labelExpr":"datum.value == 1 ? 'Ta-T1' : 'T2-T4'","title":null,"labelFontSize":9,"labelFontWeight":"bold","domainWidth":2.5,"tickWidth":2,"tickSize":3,"labelPadding":1,"labelFlush":false}},
  "y":{"field":"y","type":"quantitative","scale":{"domain":[0,6],"nice":false},"axis":{"values":[0,2,4,6],"title":["Relative expression","of circPICALM"],"titleFontSize":13,"titleFontWeight":"bold","titleLineHeight":15,"titlePadding":1,"labelFontSize":9.5,"labelFontWeight":"bold","domainWidth":2.5,"tickWidth":2,"tickSize":4,"labelPadding":2}}}},
 {"data":{"name":"f2"},"mark":{"type":"circle","size":10,"color":"#e8262c","opacity":1},"encoding":{"x":{"field":"x","type":"quantitative"},"y":{"field":"y","type":"quantitative"}}},
 {"data":{"name":"fb"},"mark":{"type":"rule","strokeWidth":3.2,"color":"black"},"encoding":{"x":{"field":"x","type":"quantitative"},"x2":{"field":"x2"},"y":{"field":"y","type":"quantitative"},"y2":{"field":"y2"}}},
 {"data":{"values":[{}]},"mark":{"type":"rule","strokeWidth":1.1,"color":"#222"},"encoding":{"x":{"datum":1},"x2":{"datum":2},"y":{"datum":6.31}}},
 {"data":{"values":[{}]},"mark":{"type":"rule","strokeWidth":1.1,"color":"#222"},"encoding":{"x":{"datum":1},"y":{"datum":6.31},"y2":{"datum":5.99}}},
 {"data":{"values":[{}]},"mark":{"type":"rule","strokeWidth":1.1,"color":"#222"},"encoding":{"x":{"datum":2},"y":{"datum":6.31},"y2":{"datum":5.99}}},
 {"data":{"values":[{}]},"mark":{"type":"text","fontSize":9,"baseline":"middle","font":"Liberation Sans"},"encoding":{"x":{"datum":1.5},"y":{"datum":6.6},"text":{"value":"**"}}},
 {"data":{"values":[{}]},"mark":{"type":"text","fontSize":16,"align":"left","baseline":"alphabetic","font":"Liberation Sans"},"encoding":{"x":{"datum":-0.073},"y":{"datum":6.92},"text":{"value":"f"}}}
]},
{"width":194,"height":130,"layer":[
 {"data":{"name":"g1"},"mark":{"type":"circle","size":10,"color":"#1c2f6e","opacity":1},"encoding":{
  "x":{"field":"x","type":"quantitative","scale":{"domain":[0.484,2.526],"nice":false,"zero":false},"axis":{"values":[1,2],"labelExpr":"datum.value == 1 ? 'low grade' : 'high grade'","title":null,"labelFontSize":9.5,"labelFontWeight":"bold","domainWidth":2.5,"tickWidth":2,"tickSize":3,"labelPadding":1,"labelFlush":false}},
  "y":{"field":"y","type":"quantitative","scale":{"domain":[0,6],"nice":false},"axis":{"values":[0,2,4,6],"title":["Relative expression","of circPICALM"],"titleFontSize":13,"titleFontWeight":"bold","titleLineHeight":15,"titlePadding":1,"labelFontSize":9.5,"labelFontWeight":"bold","domainWidth":2.5,"tickWidth":2,"tickSize":4,"labelPadding":2}}}},
 {"data":{"name":"g2"},"mark":{"type":"circle","size":10,"color":"#e8262c","opacity":1},"encoding":{"x":{"field":"x","type":"quantitative"},"y":{"field":"y","type":"quantitative"}}},
 {"data":{"name":"gb"},"mark":{"type":"rule","strokeWidth":3.2,"color":"black"},"encoding":{"x":{"field":"x","type":"quantitative"},"x2":{"field":"x2"},"y":{"field":"y","type":"quantitative"},"y2":{"field":"y2"}}},
 {"data":{"values":[{}]},"mark":{"type":"rule","strokeWidth":1.1,"color":"#222"},"encoding":{"x":{"datum":1},"x2":{"datum":2},"y":{"datum":6.15}}},
 {"data":{"values":[{}]},"mark":{"type":"rule","strokeWidth":1.1,"color":"#222"},"encoding":{"x":{"datum":1},"y":{"datum":6.15},"y2":{"datum":5.81}}},
 {"data":{"values":[{}]},"mark":{"type":"rule","strokeWidth":1.1,"color":"#222"},"encoding":{"x":{"datum":2},"y":{"datum":6.15},"y2":{"datum":5.81}}},
 {"data":{"values":[{}]},"mark":{"type":"text","fontSize":9,"baseline":"middle","font":"Liberation Sans"},"encoding":{"x":{"datum":1.5},"y":{"datum":6.43},"text":{"value":"**"}}},
 {"data":{"values":[{}]},"mark":{"type":"text","fontSize":16,"align":"left","baseline":"alphabetic","font":"Liberation Sans"},"encoding":{"x":{"datum":-0.148},"y":{"datum":6.92},"text":{"value":"g"}}}
]}
]}
],
"spacing":27,
"config":{"view":{"stroke":null},"font":"Liberation Sans","axis":{"grid":false,"labelOverlap":false,"domainColor":"#000","tickColor":"#000","labelColor":"#000","titleColor":"#000","labelFont":"Liberation Sans","titleFont":"Liberation Sans"},"title":{"font":"Liberation Sans","color":"#000"},"legend":{"labelFont":"Liberation Sans"},"text":{"color":"#000"}}
}
